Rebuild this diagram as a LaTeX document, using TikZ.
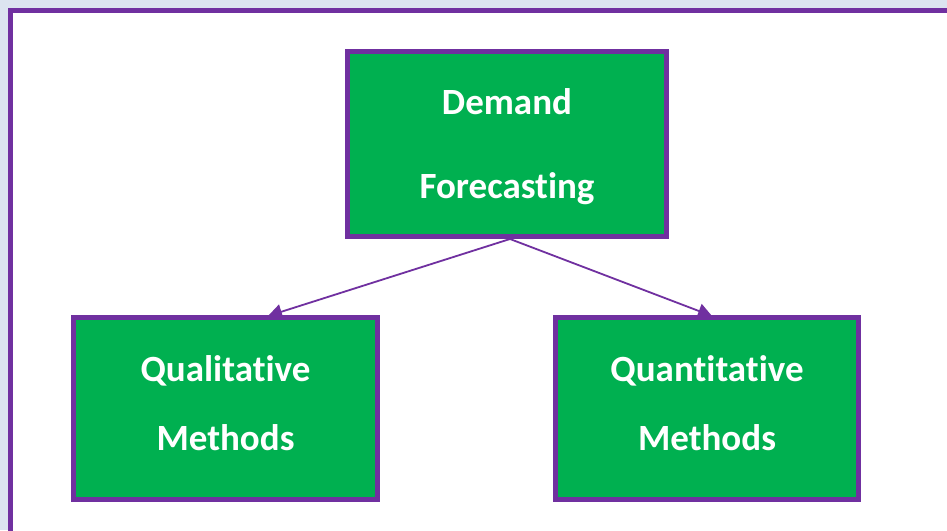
\documentclass[tikz,border=0pt]{standalone}
\usepackage{fontspec}
\setmainfont{Carlito}[Ligatures=NoCommon]
\usetikzlibrary{arrows.meta}
\definecolor{bgblue}{RGB}{220,228,240}
\definecolor{boxgreen}{RGB}{0,176,80}
\definecolor{frpurple}{RGB}{112,48,160}
\tikzset{
  gbox/.style={draw=frpurple, line width=5pt, fill=boxgreen, text=white,
    font=\bfseries\fontsize{37}{#1}\selectfont, align=center, inner sep=0pt},
  conn/.style={draw=frpurple, line width=1.8pt, -{Triangle[length=14pt,width=15pt]}}
}
\begin{document}
\begin{tikzpicture}[x=1pt,y=-1pt]
\useasboundingbox (0,0) rectangle (947,530);
\fill[bgblue] (0,0) rectangle (947,530);
\draw[frpurple, line width=5pt, fill=white] (10.5,10.5) rectangle (980,560);
\node[gbox=84, minimum width=319pt, minimum height=185pt] (dem) at (507,144) {\rule{0pt}{32pt}Demand\\Forecasting};
\node[gbox=69, minimum width=304pt, minimum height=182pt] (qual) at (225.5,408.5) {Qualitative\\Methods\rule[-11pt]{0pt}{11pt}};
\node[gbox=69, minimum width=303pt, minimum height=182pt] (quant) at (707,408.5) {Quantitative\\Methods\rule[-11pt]{0pt}{11pt}};
\draw[conn] ([xshift=3pt]dem.south) -- ([xshift=42.5pt,yshift=-1pt]qual.north);
\draw[conn] ([xshift=3pt]dem.south) -- ([xshift=5pt,yshift=-1pt]quant.north);
\end{tikzpicture}
\end{document}
